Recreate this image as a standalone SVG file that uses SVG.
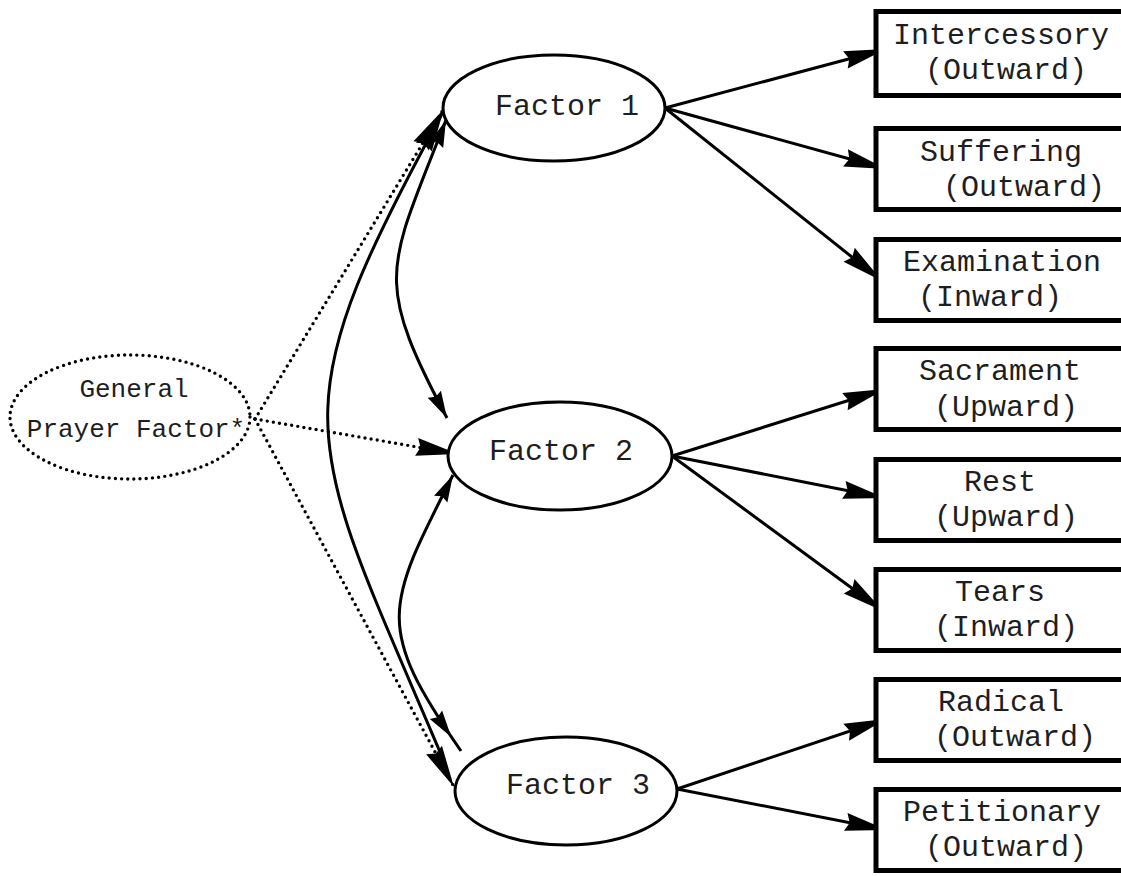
<svg xmlns="http://www.w3.org/2000/svg" width="1121" height="876" viewBox="0 0 1121 876">
<style>
.t{font-family:"Liberation Mono","Courier New",monospace;fill:#1e1e1e}
.bt{font-size:30px}
.ft{font-size:30px}
.gt{font-size:26px}
.box{fill:#fff;stroke:#000;stroke-width:5}
.ell{fill:#fff;stroke:#000;stroke-width:3}
.dot{fill:none;stroke:#000;stroke-width:3.4;stroke-linecap:round;stroke-dasharray:0 6.2}
.ln{fill:none;stroke:#000;stroke-width:3}
</style>
<defs>
<marker id="big" markerUnits="userSpaceOnUse" viewBox="-44 -12 46 24" refX="0" refY="0" markerWidth="46" markerHeight="24" orient="auto" overflow="visible">
<path d="M0,0 L-42,-9 L-38,0 L-42,9 Z" fill="#000"/>
</marker>
<marker id="sm" markerUnits="userSpaceOnUse" viewBox="-30 -10 32 20" refX="0" refY="0" markerWidth="32" markerHeight="20" orient="auto" overflow="visible">
<path d="M0,0 L-27,-7.5 L-24,0 L-27,7.5 Z" fill="#000"/>
</marker>
<marker id="smStart" markerUnits="userSpaceOnUse" viewBox="-30 -10 32 20" refX="0" refY="0" markerWidth="32" markerHeight="20" orient="auto-start-reverse" overflow="visible">
<path d="M0,0 L-27,-7.5 L-24,0 L-27,7.5 Z" fill="#000"/>
</marker>
<marker id="bigStart" markerUnits="userSpaceOnUse" viewBox="-44 -12 46 24" refX="0" refY="0" markerWidth="46" markerHeight="24" orient="auto-start-reverse" overflow="visible">
<path d="M0,0 L-40,-9 L-36,0 L-40,9 Z" fill="#000"/>
</marker>
<marker id="smBack" markerUnits="userSpaceOnUse" viewBox="-50 -10 52 20" refX="0" refY="0" markerWidth="52" markerHeight="20" orient="auto" overflow="visible">
<path d="M-17,0 L-44,-7.5 L-41,0 L-44,7.5 Z" fill="#000"/>
</marker>
</defs>

<g id="connectors">
<path class="ln" d="M665,108 L886,49" marker-end="url(#big)"/>
<path class="ln" d="M665,108 L886,169" marker-end="url(#big)"/>
<path class="ln" d="M665,108 L882,281" marker-end="url(#big)"/>
<path class="ln" d="M672,456 L885,389" marker-end="url(#big)"/>
<path class="ln" d="M672,456 L885,498" marker-end="url(#big)"/>
<path class="ln" d="M672,456 L883,611" marker-end="url(#big)"/>
<path class="ln" d="M677,789 L886,719" marker-end="url(#big)"/>
<path class="ln" d="M677,789 L887,830" marker-end="url(#big)"/>
<path class="dot" d="M255,419 L443,110" marker-end="url(#big)"/>
<path class="dot" d="M255,419 L458,454" marker-end="url(#big)"/>
<path class="dot" d="M255,419 L454,787" marker-end="url(#big)"/>
<path class="ln" d="M443,112 C276,418 304,432 440,752" marker-start="url(#bigStart)"/>
<path class="ln" d="M446,120 C388,269 372,277 447,418" marker-start="url(#smStart)" marker-end="url(#sm)"/>
<path class="ln" d="M453,475 C385,608 375,627 461,751" marker-start="url(#smStart)" marker-end="url(#smBack)"/>
</g>

<g id="general">
<ellipse cx="130" cy="417" rx="120" ry="62" fill="none" class="dot"/>
<text class="t gt" x="134" y="397" text-anchor="middle">General</text>
<text class="t gt" x="136" y="437" text-anchor="middle">Prayer Factor*</text>
</g>

<g id="factor1">
<ellipse class="ell" cx="554" cy="108" rx="111" ry="53"/>
<text class="t ft" x="495" y="115">Factor 1</text>
</g>
<g id="factor2">
<ellipse class="ell" cx="560" cy="456" rx="112" ry="54"/>
<text class="t ft" x="489" y="460">Factor 2</text>
</g>
<g id="factor3">
<ellipse class="ell" cx="566" cy="791" rx="111" ry="54"/>
<text class="t ft" x="506" y="794">Factor 3</text>
</g>

<g id="intercessory">
<rect class="box" x="876" y="11.5" width="260" height="84"/>
<text class="t bt" x="893" y="44">Intercessory</text>
<text class="t bt" x="925" y="79">(Outward)</text>
</g>
<g id="suffering">
<rect class="box" x="876" y="128.5" width="260" height="81"/>
<text class="t bt" x="920" y="161">Suffering</text>
<text class="t bt" x="943" y="196">(Outward)</text>
</g>
<g id="examination">
<rect class="box" x="876" y="239.5" width="260" height="81"/>
<text class="t bt" x="903" y="271">Examination</text>
<text class="t bt" x="918" y="306">(Inward)</text>
</g>
<g id="sacrament">
<rect class="box" x="876" y="348.5" width="260" height="81"/>
<text class="t bt" x="919" y="380">Sacrament</text>
<text class="t bt" x="934" y="416">(Upward)</text>
</g>
<g id="rest">
<rect class="box" x="876" y="459.5" width="260" height="81"/>
<text class="t bt" x="964" y="491">Rest</text>
<text class="t bt" x="934" y="526">(Upward)</text>
</g>
<g id="tears">
<rect class="box" x="876" y="569.5" width="260" height="81"/>
<text class="t bt" x="955" y="601">Tears</text>
<text class="t bt" x="934" y="636">(Inward)</text>
</g>
<g id="radical">
<rect class="box" x="876" y="679.5" width="260" height="81"/>
<text class="t bt" x="938" y="711">Radical</text>
<text class="t bt" x="934" y="746">(Outward)</text>
</g>
<g id="petitionary">
<rect class="box" x="876" y="789.5" width="260" height="81"/>
<text class="t bt" x="903" y="821">Petitionary</text>
<text class="t bt" x="925" y="856">(Outward)</text>
</g>
</svg>
